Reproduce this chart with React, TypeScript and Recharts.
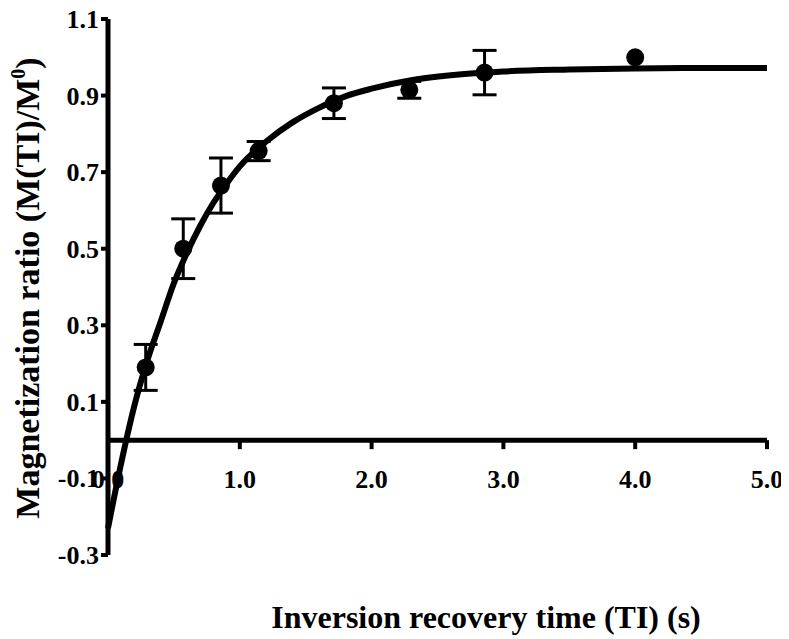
import {
  ComposedChart,
  Line,
  Scatter,
  ErrorBar,
  XAxis,
  YAxis,
  ReferenceLine,
} from 'recharts';

// measured points (TI in s, ratio, sem)
const pointTI = [0.286, 0.571, 0.857, 1.143, 1.714, 2.286, 2.857, 4.0];
const pointRatio = [0.19, 0.5, 0.665, 0.755, 0.88, 0.915, 0.96, 1.0];
const pointErr = [0.06, 0.078, 0.072, 0.025, 0.04, 0.022, 0.058, 0];

// fitted recovery curve
const curveTI = [0, 0.1, 0.2, 0.3, 0.4, 0.5, 0.6, 0.7, 0.8, 0.9, 1.0, 1.2, 1.4, 1.6, 1.8, 2.0, 2.3, 2.6, 3.0, 3.5, 4.0, 4.5, 5.0];
const curveRatio = [-0.23, -0.06, 0.09, 0.21, 0.31, 0.41, 0.49, 0.56, 0.62, 0.67, 0.715, 0.78, 0.83, 0.868, 0.898, 0.918, 0.94, 0.953, 0.963, 0.968, 0.971, 0.972, 0.972];

const xTicks = [0, 1, 2, 3, 4, 5];
const yTicks = [-0.3, -0.1, 0.1, 0.3, 0.5, 0.7, 0.9, 1.1];
const yDomain: [number, number] = [-0.3, 1.1];

const W = 781;
const H = 628;
const MARGIN = { top: 11, right: 22, bottom: 51, left: 40 };
const Y_AXIS_W = 60;
const X_AXIS_H = 30;
const PLOT_H = H - MARGIN.top - MARGIN.bottom - X_AXIS_H;
const FONT = 'Liberation Serif, DejaVu Serif, serif';
const textStyle = { fontFamily: FONT, fontWeight: 700 };

const points = pointTI.map((t, i) => ({ t, m: pointRatio[i], err: pointErr[i] }));
const curve = curveTI.map((t, i) => ({ t, m: curveRatio[i] }));

// x axis sits on the zero line, so shift ticks up from the plot bottom
function XTick(props: any) {
  const { x, y, payload } = props;
  const zeroY = y - (PLOT_H * (0 - yDomain[0])) / (yDomain[1] - yDomain[0]);
  return (
    <g>
      {payload.value !== 0 && (
        <line x1={x} x2={x} y1={zeroY} y2={zeroY + 9} stroke="#000" strokeWidth={4} />
      )}
      <text x={x} y={zeroY + 48} textAnchor="middle" style={{ ...textStyle, fontSize: 26 }} fill="#000">
        {Number(payload.value).toFixed(1)}
      </text>
    </g>
  );
}

function YTick(props: any) {
  const { x, y, payload } = props;
  return (
    <text x={x} y={y} dy={9} textAnchor="end" style={{ ...textStyle, fontSize: 26 }} fill="#000">
      {Number(payload.value).toFixed(1)}
    </text>
  );
}

function YTitle() {
  return (
    <text
      x={31}
      y={280}
      transform="rotate(-90 31 280)"
      textAnchor="middle"
      style={{ ...textStyle, fontSize: 34 }}
      fill="#000"
    >
      <tspan>Magnetization ratio (M(TI)/M</tspan>
      <tspan dy={-14} style={{ fontSize: 20 }}>0</tspan>
      <tspan dy={14}>)</tspan>
    </text>
  );
}

function XTitle() {
  return (
    <text x={478} y={620} textAnchor="middle" style={{ ...textStyle, fontSize: 32 }} fill="#000">
      Inversion recovery time (TI) (s)
    </text>
  );
}

export default function App() {
  return (
    <ComposedChart width={W} height={H} margin={MARGIN}>
      <XAxis
        type="number"
        dataKey="t"
        domain={[0, 5]}
        ticks={xTicks}
        axisLine={false}
        tickLine={false}
        tickSize={0}
        tickMargin={0}
        height={X_AXIS_H}
        tick={<XTick />}
        interval={0}
        label={<XTitle />}
      />
      <YAxis
        type="number"
        domain={yDomain}
        ticks={yTicks}
        width={Y_AXIS_W}
        interval={0}
        axisLine={{ stroke: '#000', strokeWidth: 5 }}
        tickLine={{ stroke: '#000', strokeWidth: 4 }}
        tickSize={7}
        tickMargin={2}
        tick={<YTick />}
        label={<YTitle />}
      />
      <ReferenceLine y={0} stroke="#000" strokeWidth={5} />
      <Line
        data={curve}
        dataKey="m"
        type="monotone"
        stroke="#000"
        strokeWidth={6}
        dot={false}
        isAnimationActive={false}
      />
      <Scatter
        data={points}
        dataKey="m"
        fill="#000"
        isAnimationActive={false}
        shape={(p: any) => <circle cx={p.cx} cy={p.cy} r={9} fill="#000" />}
      >
        <ErrorBar dataKey="err" direction="y" width={12} strokeWidth={3} stroke="#000" />
      </Scatter>
    </ComposedChart>
  );
}
